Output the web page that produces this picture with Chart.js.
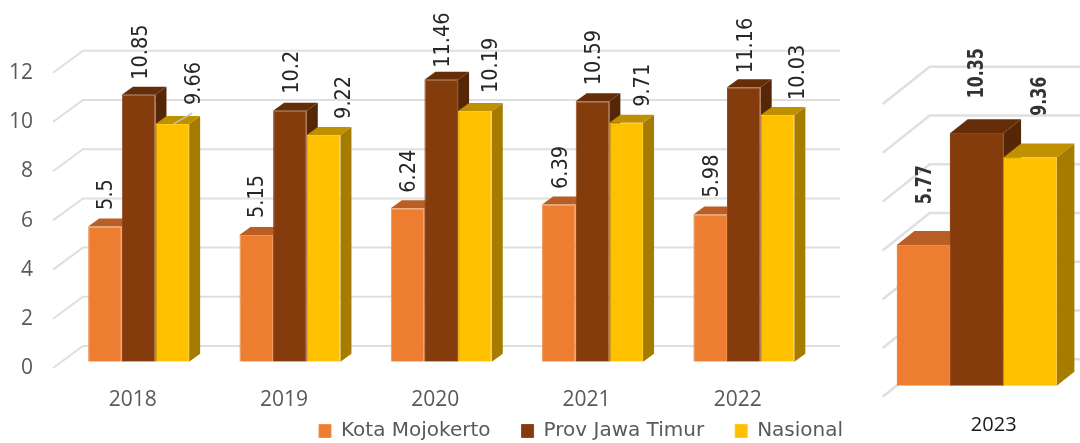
<!DOCTYPE html>
<html><head><meta charset="utf-8">
<script src="https://cdn.jsdelivr.net/npm/chart.js@4"></script>
<style>html,body{margin:0;padding:0;background:#fff;overflow:hidden}canvas{position:absolute;top:0}</style>
</head><body>
<canvas id="a" width="850" height="443" style="left:0"></canvas>
<canvas id="b" width="220" height="443" style="left:860px"></canvas>
<script>
const years = ['2018','2019','2020','2021','2022'];
const kota = [5.5,5.15,6.24,6.39,5.98];
const prov = [10.85,10.2,11.46,10.59,11.16];
const nasional = [9.66,9.22,10.19,9.71,10.03];
const yearsB = ['2023'];
const kotaB = [5.77];
const provB = [10.35];
const nasionalB = [9.36];
const seriesNames = ['Kota Mojokerto','Prov Jawa Timur','Nasional'];
const colors = ['#ED7D31','#843C0C','#FFC000'];
const topColors = ['#B95F25','#652E08','#BF9000'];
const sideColors = ['#A85420','#552706','#A67C00'];

function poly(ctx,pts,fill){ctx.fillStyle=fill;ctx.beginPath();pts.forEach((p,i)=>i?ctx.lineTo(p[0],p[1]):ctx.moveTo(p[0],p[1]));ctx.closePath();ctx.fill();}

function box3d(cfg){return {
  id:'box3d',
  beforeLayout(chart){
    const l=chart.legend;
    if(l&&cfg.hasLegend&&!l._fitWrapped){const f=l.fit;l.fit=function(){f.call(this);this.height=30;};l._fitWrapped=true;}
  },
  afterLayout(chart){ if(cfg.hasLegend){const l=chart.legend;l.left=288;l.right=1000;l.top=390;l.bottom=443;} },
  beforeDatasetsDraw(chart){
    const ctx=chart.ctx,y=chart.scales.y;
    ctx.save();
    ctx.strokeStyle=cfg.gridColor;ctx.lineWidth=cfg.gridWidth;
    y.ticks.forEach(t=>{
      const p=y.getPixelForValue(t.value);
      ctx.beginPath();
      ctx.moveTo(chart.chartArea.left+cfg.front[0],p+cfg.front[1]);
      ctx.lineTo(chart.chartArea.left+cfg.back[0],p+cfg.back[1]);
      ctx.lineTo(cfg.gridRight,p+cfg.back[1]);
      ctx.stroke();
    });
    chart.data.datasets.forEach((ds,i)=>{
      chart.getDatasetMeta(i).data.forEach(el=>{
        const l=el.x-el.width/2,r=el.x+el.width/2,t=el.y,b=el.base,dx=cfg.dx,dy=cfg.dy;
        poly(ctx,[[r,t],[r+dx,t-dy],[r+dx,b-dy],[r,b]],sideColors[i]);
        poly(ctx,[[l,t],[l+dx,t-dy],[r+dx,t-dy],[r,t]],topColors[i]);
      });
    });
    ctx.restore();
  },
  afterDatasetsDraw(chart){
    const ctx=chart.ctx;
    ctx.save();
    chart.data.datasets.forEach((ds,i)=>{
      chart.getDatasetMeta(i).data.forEach((el,j)=>{
        const lift=cfg.lift[i][j],ox=cfg.shift[i][j]+1.4;
        if(cfg.leader&&i===2&&j===0){
          ctx.strokeStyle='#BFBFBF';ctx.lineWidth=1.5;
          ctx.beginPath();ctx.moveTo(el.x+1,el.y);ctx.lineTo(el.x+20,el.y-11);ctx.stroke();
        }
        ctx.save();
        ctx.translate(el.x+ox,el.y-lift);
        ctx.rotate(-Math.PI/2);
        ctx.scale(cfg.stretch,1);
        ctx.font=cfg.font;ctx.fillStyle=cfg.labelColor;
        ctx.textAlign='left';ctx.textBaseline='middle';
        ctx.fillText(String(ds.data[j]),0,0);
        ctx.restore();
      });
    });
    ctx.restore();
  }
};}

function makeChart(id,labels,vals,o){
  return new Chart(document.getElementById(id),{
    type:'bar',
    data:{labels,datasets:vals.map((v,i)=>({label:seriesNames[i],data:v,backgroundColor:colors[i],
      borderColor:o.edge[i],borderWidth:1,categoryPercentage:o.cat,barPercentage:1}))},
    options:{
      responsive:false,animation:false,
      layout:{padding:{left:0,right:o.padRight,top:o.padTop,bottom:0}},
      plugins:{tooltip:{enabled:false},
        legend:o.legend?{display:true,position:'bottom',align:'start',
          labels:{boxWidth:12,boxHeight:13,padding:31,color:'#595959',font:{family:'DejaVu Sans',size:20}}}:{display:false}},
      scales:{
        x:{grid:{display:false},border:{display:false},
          ticks:{color:o.xColor,font:{family:o.xFamily,size:o.xSize},padding:o.xPad,labelOffset:o.xOffset,maxRotation:0},
          afterFit(s){s.height=o.xHeight;}},
        y:{min:0,max:12,grid:{display:false,drawTicks:false},border:{display:false},
          ticks:{display:o.yTicks,stepSize:2,color:'#595959',font:{family:'Open Sans',size:21},padding:30,labelOffset:6.5},
          afterFit(s){s.width=o.yWidth;}}
      }
    },
    plugins:[box3d(o.box)]
  });
}

const edges=['#F0904F','#93481A','#FFC91F'];
makeChart('a',years,[kota,prov,nasional],{
  edge:edges,cat:101/151.3,padRight:30.5,padTop:66.5,legend:true,
  xColor:'#595959',xFamily:'Open Sans',xSize:21,xPad:18,xOffset:-6,xHeight:51.3,yTicks:true,yWidth:63,
  box:{hasLegend:true,gridColor:'#DFDFDF',gridWidth:2,front:[-10,6.3],back:[20,-15.7],gridRight:840,dx:11,dy:8,
    font:'21.5px "DejaVu Sans Condensed","DejaVu Sans"',labelColor:'#262626',stretch:1,leader:true,
    shift:[[0,0,0.4,1,1],[1.4,1,1,0.5,1],[20.7,19.4,15,15.8,19.5]],
    lift:[[16.5,17,15.5,15.5,17],[15,17,12,16,14],[19,16,18,16,15]]}
});
makeChart('b',yearsB,[kotaB,provB,nasionalB],{
  edge:edges,cat:1,padRight:23.3,padTop:93.1,legend:false,
  xColor:'#1A1A1A',xFamily:'Open Sans',xSize:20,xPad:20,xOffset:17,xHeight:57.3,yTicks:false,yWidth:36.7,
  box:{hasLegend:false,gridColor:'#DFDFDF',gridWidth:2.5,front:[-14,11],back:[33,-26.4],gridRight:220,dx:17.7,dy:14,
    font:'bold 22px "DejaVu Sans"',labelColor:'#333333',stretch:0.72,leader:false,
    shift:[[1],[-1],[9]],lift:[[40.7],[35],[41.7]]}
});
</script>
</body></html>
